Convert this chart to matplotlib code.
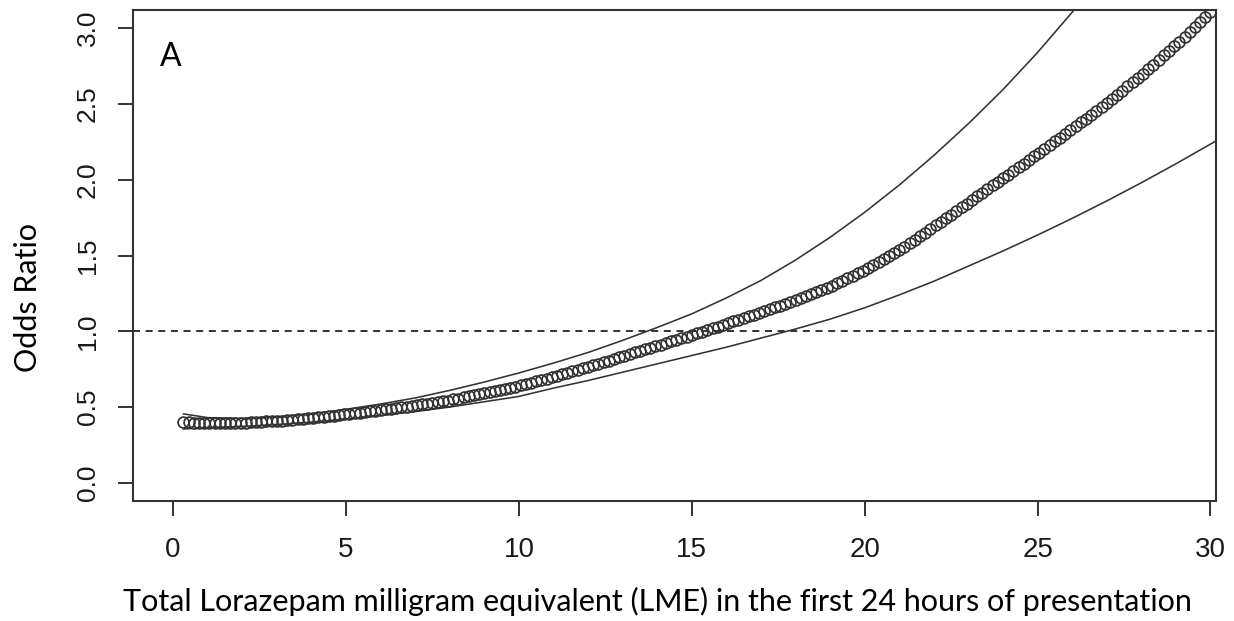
import numpy as np
import matplotlib
matplotlib.use("Agg")
import matplotlib.pyplot as plt

# odds ratio curve (circles), read every 0.15 mg from 0.3 to 30.0
lme_dose = np.round(0.3 + 0.15 * np.arange(199), 2)
odds_ratio = [
    0.400, 0.399, 0.398, 0.398, 0.397,
    0.396, 0.396, 0.396, 0.396, 0.397, 0.397, 0.397,
    0.398, 0.400, 0.401, 0.403, 0.405, 0.406,
    0.408, 0.411, 0.414, 0.417, 0.419, 0.422, 0.425,
    0.428, 0.432, 0.436, 0.440, 0.443, 0.447, 0.451,
    0.455, 0.459, 0.463, 0.467, 0.472, 0.476,
    0.480, 0.485, 0.489, 0.494, 0.498, 0.503, 0.507,
    0.512, 0.517, 0.522, 0.528, 0.533, 0.538, 0.543,
    0.550, 0.556, 0.563, 0.570, 0.577, 0.583,
    0.590, 0.598, 0.605, 0.613, 0.620, 0.628, 0.635,
    0.643, 0.652, 0.661, 0.670, 0.679, 0.688, 0.697,
    0.707, 0.716, 0.726, 0.736, 0.746, 0.755,
    0.765, 0.776, 0.786, 0.797, 0.807, 0.818, 0.828,
    0.839, 0.849, 0.860, 0.870, 0.881, 0.891, 0.902,
    0.912, 0.923, 0.933, 0.944, 0.954, 0.965,
    0.975, 0.986, 0.998, 1.009, 1.020, 1.031, 1.043,
    1.054, 1.065, 1.076, 1.088, 1.099, 1.110, 1.121,
    1.133, 1.145, 1.157, 1.169, 1.181, 1.193,
    1.205, 1.219, 1.232, 1.246, 1.259, 1.273, 1.286,
    1.301, 1.317, 1.334, 1.350, 1.367, 1.383, 1.400,
    1.418, 1.438, 1.457, 1.477, 1.496, 1.516,
    1.535, 1.558, 1.582, 1.605, 1.628, 1.651, 1.675,
    1.698, 1.722, 1.746, 1.770, 1.794, 1.818, 1.842,
    1.866, 1.890, 1.914, 1.938, 1.962, 1.986,
    2.010, 2.034, 2.058, 2.082, 2.106, 2.130, 2.154,
    2.178, 2.203, 2.228, 2.253, 2.277, 2.302, 2.327,
    2.352, 2.378, 2.403, 2.429, 2.454, 2.480,
    2.505, 2.533, 2.561, 2.588, 2.616, 2.644, 2.672,
    2.700, 2.730, 2.760, 2.790, 2.820, 2.850, 2.880,
    2.912, 2.945, 2.978, 3.011, 3.044, 3.077,
    3.110,
]

# confidence band
ci_dose = [0.3, 1, 2, 3, 4, 5, 6, 7, 8, 9, 10, 11, 12, 13, 14, 15, 16, 17,
           18, 19, 20, 21, 22, 23, 24, 25, 26, 27, 28, 29, 30, 31]
ci_upper = [0.455, 0.43, 0.425, 0.435, 0.455, 0.485, 0.52, 0.56, 0.61, 0.665,
            0.725, 0.79, 0.86, 0.94, 1.025, 1.115, 1.22, 1.335, 1.47, 1.62,
            1.785, 1.965, 2.16, 2.37, 2.595, 2.84, 3.105, 3.39, 3.69, 4.01,
            4.35, 4.7]
ci_lower = [0.355, 0.365, 0.372, 0.385, 0.40, 0.42, 0.445, 0.47, 0.50, 0.535,
            0.57, 0.625, 0.675, 0.73, 0.785, 0.84, 0.895, 0.955, 1.015, 1.08,
            1.155, 1.24, 1.33, 1.43, 1.53, 1.635, 1.745, 1.86, 1.98, 2.105,
            2.235, 2.37]

x_ticks = [0, 5, 10, 15, 20, 25, 30]
y_ticks = [0.0, 0.5, 1.0, 1.5, 2.0, 2.5, 3.0]

W, H = 1234, 621
fig = plt.figure(figsize=(W / 100, H / 100), dpi=100)
ax = fig.add_axes([133 / W, 1 - 501 / H, (1216 - 133) / W, (501 - 10) / H])

ink = "#333333"
ax.plot(lme_dose, odds_ratio, linestyle="none", marker="o", markersize=7.8,
        markerfacecolor="none", markeredgecolor=ink, markeredgewidth=1.25)
ax.plot(ci_dose, ci_upper, color=ink, lw=1.15)
ax.plot(ci_dose, ci_lower, color=ink, lw=1.15)
ax.axhline(1.0, color=ink, lw=1.4, linestyle=(0, (3.6, 2.9)))

ax.set_xlim(-1.16, 30.16)
ax.set_ylim(-0.12, 3.12)
ax.set_xticks(x_ticks)
ax.set_yticks(y_ticks)
ax.set_xticklabels([str(t) for t in x_ticks],
                   family=["Liberation Sans Narrow", "Liberation Sans"], fontsize=20)
ax.set_yticklabels(["%.1f" % t for t in y_ticks], rotation=90, va="center",
                   family=["Liberation Sans", "DejaVu Sans"], fontsize=19)
ax.tick_params(axis="x", length=11, width=1.4, color=ink, pad=15, labelcolor="#1a1a1a")
ax.tick_params(axis="y", length=11, width=1.4, color=ink, pad=13, labelcolor="#1a1a1a")
for s in ax.spines.values():
    s.set_color(ink)
    s.set_linewidth(1.5)

fig.text(657 / W, 1 - 601 / H,
         "Total Lorazepam milligram equivalent (LME) in the first 24 hours of presentation",
         ha="center", va="center", fontsize=22, family="Lato", color="black")
fig.text(28 / W, 1 - 297 / H, "Odds Ratio", rotation=90, ha="center", va="center",
         fontsize=22, family="Lato", color="black")
fig.text(171 / W, 1 - 57 / H, "A", ha="center", va="center", fontsize=23,
         family="Lato", color="black")

fig.savefig("out.png", dpi=100)
